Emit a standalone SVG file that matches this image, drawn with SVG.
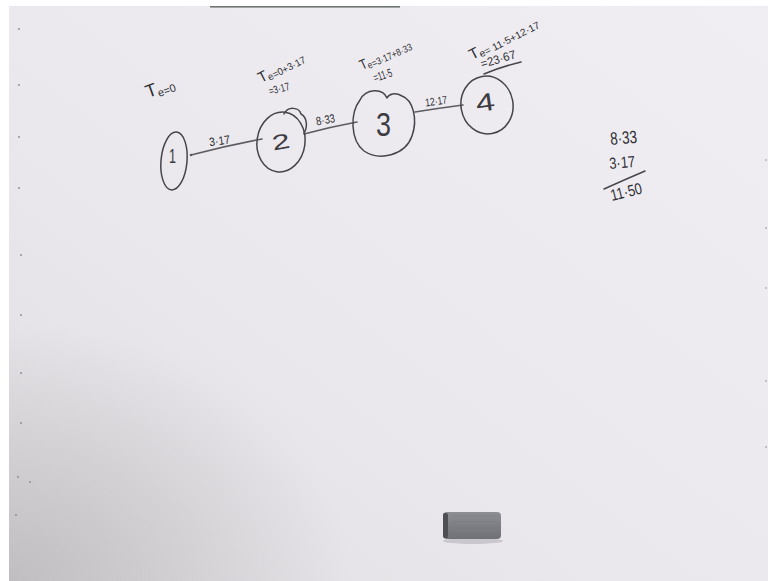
<svg xmlns="http://www.w3.org/2000/svg" width="768" height="581" viewBox="0 0 768 581">
  <defs>
    <linearGradient id="board" x1="1" y1="0" x2="0" y2="1">
      <stop offset="0" stop-color="#f0eef2"/>
      <stop offset="0.6" stop-color="#eae8ec"/>
      <stop offset="1" stop-color="#e0dee1"/>
    </linearGradient>
    <radialGradient id="shade" cx="0" cy="1" r="0.45">
      <stop offset="0" stop-color="#b8b6b8" stop-opacity="0.8"/>
      <stop offset="1" stop-color="#b8b6b8" stop-opacity="0"/>
    </radialGradient>
    <linearGradient id="eraser" x1="0" y1="0" x2="0" y2="1">
      <stop offset="0" stop-color="#8d8e94"/>
      <stop offset="1" stop-color="#707177"/>
    </linearGradient>
    <style>
      .ink { fill: none; stroke: #45454b; stroke-width: 1.5; stroke-linecap: round; stroke-linejoin: round; }
      .edge { fill: none; stroke: #5c5c62; stroke-width: 1.6; stroke-linecap: round; }
      .num { font-family: "Liberation Sans", "DejaVu Sans", sans-serif; fill: #3c3c42; }
      .lbl { font-family: "Liberation Sans", "DejaVu Sans", sans-serif; fill: #2f2f35; }
      .dot { fill: #8a888c; }
    </style>
  </defs>

  <!-- page and whiteboard surface -->
  <rect x="0" y="0" width="768" height="581" fill="#ffffff"/>
  <rect x="9" y="6" width="759" height="575" fill="url(#board)"/>
  <rect x="9" y="6" width="759" height="575" fill="url(#shade)"/>
  <rect x="210" y="6" width="190" height="1.6" fill="#6f7670"/>

  <!-- mounting dots along the frame -->
  <g id="frame-dots">
    <circle class="dot" cx="19" cy="29" r="0.9"/>
    <circle class="dot" cx="19" cy="85" r="0.9"/>
    <circle class="dot" cx="19" cy="137" r="0.9"/>
    <circle class="dot" cx="19" cy="188" r="0.9"/>
    <circle class="dot" cx="21" cy="255" r="0.9"/>
    <circle class="dot" cx="21" cy="315" r="0.9"/>
    <circle class="dot" cx="21" cy="373" r="0.9"/>
    <circle class="dot" cx="21" cy="423" r="0.9"/>
    <circle class="dot" cx="18" cy="477" r="0.9"/>
    <circle class="dot" cx="30" cy="482" r="0.9"/>
    <circle class="dot" cx="16" cy="515" r="0.9"/>
    <circle class="dot" cx="766" cy="160" r="0.8"/>
    <circle class="dot" cx="766" cy="228" r="0.8"/>
    <circle class="dot" cx="766" cy="288" r="0.8"/>
    <circle class="dot" cx="766" cy="381" r="0.8"/>
    <circle class="dot" cx="766" cy="447" r="0.8"/>
  </g>

  <!-- activity connectors -->
  <g id="connectors">
    <path class="edge" d="M191,155 Q225,146 262,139"/>
    <circle cx="191" cy="155" r="1.3" fill="#58585e"/>
    <path class="edge" d="M304,134 Q330,127 357,122"/>
    <path class="edge" d="M415,112 Q440,108 463,105"/>
    <text class="lbl" x="209" y="145" font-size="12" textLength="21" lengthAdjust="spacingAndGlyphs" transform="rotate(-8 219 141)">3·17</text>
    <text class="lbl" x="316" y="124" font-size="12" textLength="19" lengthAdjust="spacingAndGlyphs" transform="rotate(-10 325 120)">8·33</text>
    <text class="lbl" x="425" y="105" font-size="11" textLength="22" lengthAdjust="spacingAndGlyphs" transform="rotate(-8 436 101)">12·17</text>
  </g>

  <!-- event 1 -->
  <g id="node-1">
    <ellipse class="ink" cx="174" cy="161" rx="13" ry="29" transform="rotate(5 174 161)"/>
    <text class="num" x="169" y="163" font-size="20" textLength="7" lengthAdjust="spacingAndGlyphs">1</text>
    <text class="lbl" x="146" y="97" font-size="18" transform="rotate(-20 150 92)">T<tspan font-size="11" dy="3">e=0</tspan></text>
  </g>

  <!-- event 2 -->
  <g id="node-2">
    <ellipse class="ink" cx="281" cy="142" rx="24" ry="30" transform="rotate(8 281 142)"/>
    <path class="ink" d="M284,114 C288,106 299,107 301,114 C307,117 308,127 304,133"/>
    <text class="num" x="272" y="149" font-size="21" textLength="18" lengthAdjust="spacingAndGlyphs" transform="rotate(-10 281 142)">2</text>
    <text class="lbl" x="261" y="83" font-size="15" textLength="50" lengthAdjust="spacingAndGlyphs" transform="rotate(-27 261 83)">T<tspan font-size="10" dy="2">e=0+3·17</tspan></text>
    <text class="lbl" x="270" y="95" font-size="11" textLength="21" lengthAdjust="spacingAndGlyphs" transform="rotate(-15 270 95)">=3·17</text>
  </g>

  <!-- event 3 -->
  <g id="node-3">
    <path class="ink" d="M387,98 C383,88 366,88 360,100 C350,113 350,140 364,151 C379,161 405,156 412,136 C418,119 413,100 402,96 C395,92 389,94 387,98 Z"/>
    <text class="num" x="376" y="136" font-size="34" textLength="15" lengthAdjust="spacingAndGlyphs">3</text>
    <text class="lbl" x="362" y="70" font-size="14" textLength="55" lengthAdjust="spacingAndGlyphs" transform="rotate(-24 362 70)">T<tspan font-size="10" dy="2">e=3·17+8·33</tspan></text>
    <text class="lbl" x="375" y="82" font-size="12" textLength="19" lengthAdjust="spacingAndGlyphs" transform="rotate(-18 375 82)">=11·5</text>
  </g>

  <!-- event 4 -->
  <g id="node-4">
    <ellipse class="ink" cx="487" cy="105" rx="26" ry="29" transform="rotate(-10 487 105)"/>
    <text class="num" x="476" y="111" font-size="25" textLength="19" lengthAdjust="spacingAndGlyphs" transform="rotate(-8 485 104)">4</text>
    <text class="lbl" x="472" y="60" font-size="15" textLength="76" lengthAdjust="spacingAndGlyphs" transform="rotate(-27 472 60)">T<tspan font-size="10" dy="2">e= 11·5+12·17</tspan></text>
    <text class="lbl" x="482" y="68" font-size="12" textLength="36" lengthAdjust="spacingAndGlyphs" transform="rotate(-16 482 68)">=23·67</text>
    <path class="ink" d="M484,74 Q500,67 521,62" stroke-width="1.8"/>
  </g>

  <!-- side sum -->
  <g id="side-sum">
    <text class="lbl" x="610" y="144" font-size="18" textLength="27" lengthAdjust="spacingAndGlyphs" transform="rotate(-5 623 137)">8·33</text>
    <text class="lbl" x="609" y="168" font-size="16" textLength="26" lengthAdjust="spacingAndGlyphs" transform="rotate(-5 622 161)">3·17</text>
    <path class="ink" d="M604,189 Q624,180 645,171"/>
    <text class="lbl" x="612" y="201" font-size="16" textLength="32" lengthAdjust="spacingAndGlyphs" transform="rotate(-14 612 201)">11·50</text>
  </g>

  <!-- eraser resting on the tray -->
  <g id="eraser">
    <ellipse cx="473" cy="541" rx="30" ry="3" fill="#b4b2b5" opacity="0.6"/>
    <rect x="443" y="512" width="58" height="27" rx="4" fill="url(#eraser)"/>
    <rect x="443" y="513" width="5" height="25" rx="2" fill="#4e4f54"/>
    <path d="M452,516 H497 M452,522 H497 M452,528 H497 M452,534 H497" stroke="#74757d" stroke-width="0.6" opacity="0.6"/>
  </g>
</svg>
